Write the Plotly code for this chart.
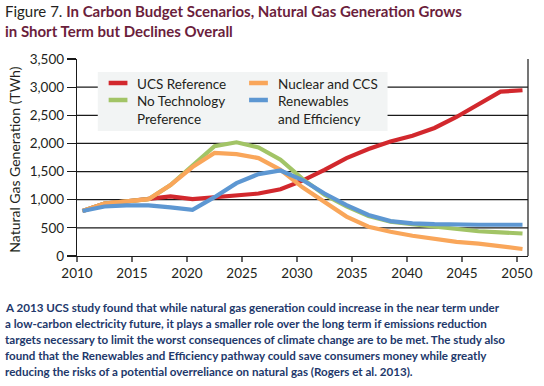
import plotly.graph_objects as go

years = [2010, 2012, 2014, 2016, 2018, 2020, 2022, 2024, 2026, 2028, 2030,
         2032, 2034, 2036, 2038, 2040, 2042, 2044, 2046, 2048, 2050]

ucs_reference = [800, 930, 970, 1010, 1060, 1010, 1040, 1065, 1110, 1185, 1340,
                 1530, 1740, 1900, 2035, 2135, 2275, 2470, 2700, 2920, 2945]
no_tech_pref = [800, 930, 970, 1010, 1260, 1600, 1950, 2020, 1930, 1710, 1370,
                1090, 880, 710, 610, 565, 520, 475, 440, 420, 400]
nuclear_ccs = [800, 930, 970, 1010, 1260, 1580, 1830, 1810, 1740, 1530, 1220,
               965, 700, 520, 430, 360, 300, 250, 220, 175, 125]
renew_eff = [800, 880, 900, 900, 865, 820, 1045, 1295, 1455, 1520, 1350,
             1110, 905, 730, 620, 580, 565, 555, 555, 555, 555]

series_names = ["UCS Reference", "No Technology<br>Preference",
                "Nuclear and CCS", "Renewables<br>and Efficiency"]
series_colors = ["#d2282d", "#a2c466", "#f9a65a", "#5d97d2"]
series_values = [ucs_reference, no_tech_pref, nuclear_ccs, renew_eff]

y_ticks = [0, 500, 1000, 1500, 2000, 2500, 3000, 3500]
y_tick_labels = ["0", "500", "1,000", "1,500", "2,000", "2,500", "3,000", "3,500"]
x_ticks = [2010, 2015, 2020, 2025, 2030, 2035, 2040, 2045, 2050]

title_lines = ["In Carbon Budget Scenarios, Natural Gas Generation Grows",
               "in Short Term but Declines Overall"]
caption_lines = [
    "A 2013 UCS study found that while natural gas generation could increase in the near term under",
    "a low-carbon electricity future, it plays a smaller role over the long term if emissions reduction",
    "targets necessary to limit the worst consequences of climate change are to be met. The study also",
    "found that the Renewables and Efficiency pathway could save consumers money while greatly",
    "reducing the risks of a potential overreliance on natural gas (Rogers et al. 2013).",
]

FONT = "Lato"
TITLE_COLOR = "#6b1e3c"
W, H = 544, 386
ML, MR, MT, MB = 77, 11, 59, 130
PW, PH = W - ML - MR, H - MT - MB

# data points sit in the middle of each year category
x_pos = [y + 0.5 for y in years]

fig = go.Figure()
for name, color, vals in zip(series_names, series_colors, series_values):
    fig.add_trace(go.Scatter(x=x_pos, y=vals, mode="lines", name=name,
                             line=dict(color=color, width=4.2),
                             showlegend=False))

shapes = []
# gridlines
for v in y_ticks[1:-1]:
    shapes.append(dict(type="line", xref="paper", yref="y", x0=0, x1=1, y0=v, y1=v,
                       line=dict(color="#1a1a1a", width=1.2), layer="below"))
# right border
shapes.append(dict(type="line", xref="paper", yref="paper", x0=1, x1=1, y0=0, y1=1,
                   line=dict(color="#1a1a1a", width=1.2), layer="above"))

def px_x(p):
    return (p - ML) / PW

def px_y(p):
    return 1 - (p - MT) / PH

# legend box
shapes.append(dict(type="rect", xref="paper", yref="paper",
                   x0=px_x(98), x1=px_x(391), y0=px_y(131), y1=px_y(72),
                   fillcolor="#f2f4f4", line=dict(width=0), layer="below"))

annotations = []
legend_pos = [(109, 83), (109, 100), (251, 83), (251, 100)]
for (lx, ly), name, color in zip(legend_pos, series_names, series_colors):
    shapes.append(dict(type="line", xref="paper", yref="paper",
                       x0=px_x(lx), x1=px_x(lx + 19), y0=px_y(ly), y1=px_y(ly),
                       line=dict(color=color, width=4.5), layer="above"))
    annotations.append(dict(xref="paper", yref="paper", x=px_x(lx + 27), y=px_y(ly - 9),
                            xanchor="left", yanchor="top", showarrow=False, align="left",
                            text=name, font=dict(family=FONT, size=13.5, color="#231f20")))

# title (two lines in one text block)
title_text = ("Figure 7. <b><span style='color:%s'>%s</span></b><br>"
              "<b><span style='color:%s'>%s</span></b>"
              % (TITLE_COLOR, title_lines[0], TITLE_COLOR, title_lines[1]))
annotations.append(dict(xref="paper", yref="paper", x=px_x(3), y=px_y(0.5),
                        xanchor="left", yanchor="top", showarrow=False, align="left",
                        borderpad=0, text=title_text,
                        font=dict(family=FONT, size=15, color="#231f20")))
# caption
for i, line in enumerate(caption_lines):
    annotations.append(dict(xref="paper", yref="paper", x=px_x(3), y=px_y(300 + 16 * i),
                            xanchor="left", yanchor="top", showarrow=False, align="left",
                            borderpad=0, text="<b>" + line + "</b>",
                            font=dict(family=FONT, size=11.6, color="#22386b")))
# y-axis title
annotations.append(dict(xref="paper", yref="paper", x=px_x(13), y=px_y(160),
                        xanchor="center", yanchor="middle", showarrow=False, textangle=-90,
                        text="Natural Gas Generation (TWh)",
                        font=dict(family=FONT, size=14, color="#231f20")))

fig.update_layout(
    width=W, height=H, margin=dict(l=ML, r=MR, t=MT, b=MB),
    paper_bgcolor="white", plot_bgcolor="white",
    font=dict(family=FONT, size=13, color="#231f20"),
    shapes=shapes, annotations=annotations,
    xaxis=dict(range=[2010, 2051], tickvals=x_ticks, showgrid=False, zeroline=False,
               showline=True, linecolor="#1a1a1a", linewidth=1.2,
               ticks="outside", ticklen=5, tickcolor="#666", tickwidth=1.5,
               tickfont=dict(family=FONT, size=13.5, color="#231f20")),
    yaxis=dict(range=[0, 3500], tickvals=y_ticks, ticktext=y_tick_labels,
               showgrid=False, zeroline=False,
               showline=True, linecolor="#1a1a1a", linewidth=1.2,
               ticks="outside", ticklen=9, tickcolor="#1a1a1a", tickwidth=1.2,
               tickfont=dict(family=FONT, size=13.5, color="#231f20")),
)

fig.write_html("out.html",
               config={"displayModeBar": False, "staticPlot": True},
               post_script="document.body.style.margin='0';document.body.style.overflow='hidden';")
